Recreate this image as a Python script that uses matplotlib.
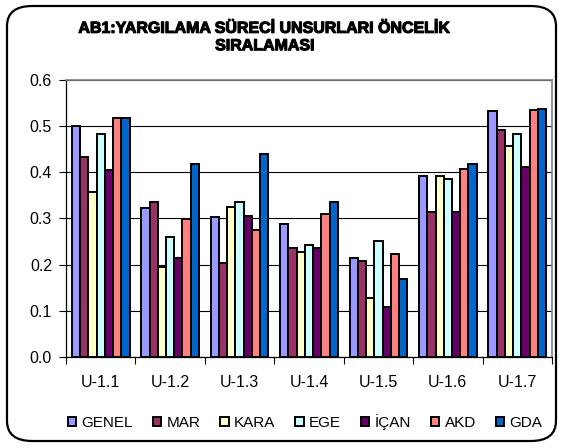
import numpy as np
import matplotlib
matplotlib.use("Agg")
import matplotlib.pyplot as plt
import matplotlib.patheffects as pe
from matplotlib.patches import FancyBboxPatch

plt.rcParams['font.family'] = ['Liberation Sans', 'DejaVu Sans']

# Données
categories = ["U-1.1", "U-1.2", "U-1.3", "U-1.4", "U-1.5", "U-1.6", "U-1.7"]
series_names = ["GENEL", "MAR", "KARA", "EGE", "İÇAN", "AKD", "GDA"]
genel = [0.500, 0.323, 0.304, 0.289, 0.215, 0.392, 0.533]
mar   = [0.434, 0.336, 0.204, 0.237, 0.209, 0.315, 0.491]
kara  = [0.358, 0.195, 0.325, 0.228, 0.128, 0.392, 0.458]
ege   = [0.484, 0.260, 0.336, 0.242, 0.251, 0.385, 0.484]
ican  = [0.406, 0.215, 0.306, 0.237, 0.109, 0.315, 0.411]
akd   = [0.517, 0.298, 0.275, 0.309, 0.223, 0.408, 0.536]
gda   = [0.517, 0.417, 0.439, 0.336, 0.168, 0.417, 0.538]
series = [genel, mar, kara, ege, ican, akd, gda]
colors = ["#9999FF", "#993366", "#FFFFCC", "#CCFFFF", "#660066", "#FF8080", "#0066CC"]
yticks = [0.0, 0.1, 0.2, 0.3, 0.4, 0.5, 0.6]

W, H = 562, 447
fig = plt.figure(figsize=(W / 100, H / 100), dpi=100)
ax = fig.add_axes([66 / W, 1 - 357 / H, (552 - 66) / W, (357 - 80) / H])

# cadre arrondi autour du graphique
frame = FancyBboxPatch((7 / W, 6 / H), (W - 13) / W, (H - 12) / H,
                       boxstyle="round,pad=0,rounding_size=0.045",
                       transform=fig.transFigure, fc="none", ec="black", lw=1.6)
fig.patches.append(frame)

n = len(series)
x = np.arange(len(categories))
w = 0.83 / n
for i, (vals, c, name) in enumerate(zip(series, colors, series_names)):
    ax.bar(x - 0.83 / 2 + w * (i + 0.5), vals, width=w, color=c,
           edgecolor="black", linewidth=1.4, label=name, zorder=3)

ax.set_xlim(-0.5, len(categories) - 0.5)
ax.set_ylim(0, 0.6)
ax.set_yticks(yticks)
ax.set_yticklabels([f"{v:.1f}" for v in yticks], fontsize=11.5)
ax.yaxis.grid(True, color="black", linewidth=0.8, zorder=0)
ax.set_axisbelow(True)

ax.set_xticks(x)
ax.set_xticklabels(categories, fontsize=11.5)
ax.set_xticks(np.arange(len(categories) + 1) - 0.5, minor=True)
ax.tick_params(axis="x", which="major", length=0, pad=13)
ax.tick_params(axis="x", which="minor", length=5, width=0.8)
ax.tick_params(axis="y", length=5, width=0.8, pad=5)

for s in ["top", "right"]:
    ax.spines[s].set_color("#808080")
    ax.spines[s].set_linewidth(1.2)
ax.spines["left"].set_linewidth(0.9)
ax.spines["bottom"].set_linewidth(0.9)

fig.text(265 / W, 1 - 37 / H, "AB1:YARGILAMA SÜRECİ UNSURLARI ÖNCELİK\nSIRALAMASI",
         ha="center", va="center", fontsize=11.5, fontweight="bold", linespacing=1.2,
         path_effects=[pe.withStroke(linewidth=0.8, foreground="black")])

handles, labels = ax.get_legend_handles_labels()
leg = fig.legend(handles, labels, loc="center", bbox_to_anchor=(305 / W, 1 - 422 / H),
                 ncol=7, frameon=False, fontsize=11, handlelength=0.55,
                 handleheight=0.55, handletextpad=0.35, columnspacing=1.3)

fig.savefig("out.png", dpi=100)
